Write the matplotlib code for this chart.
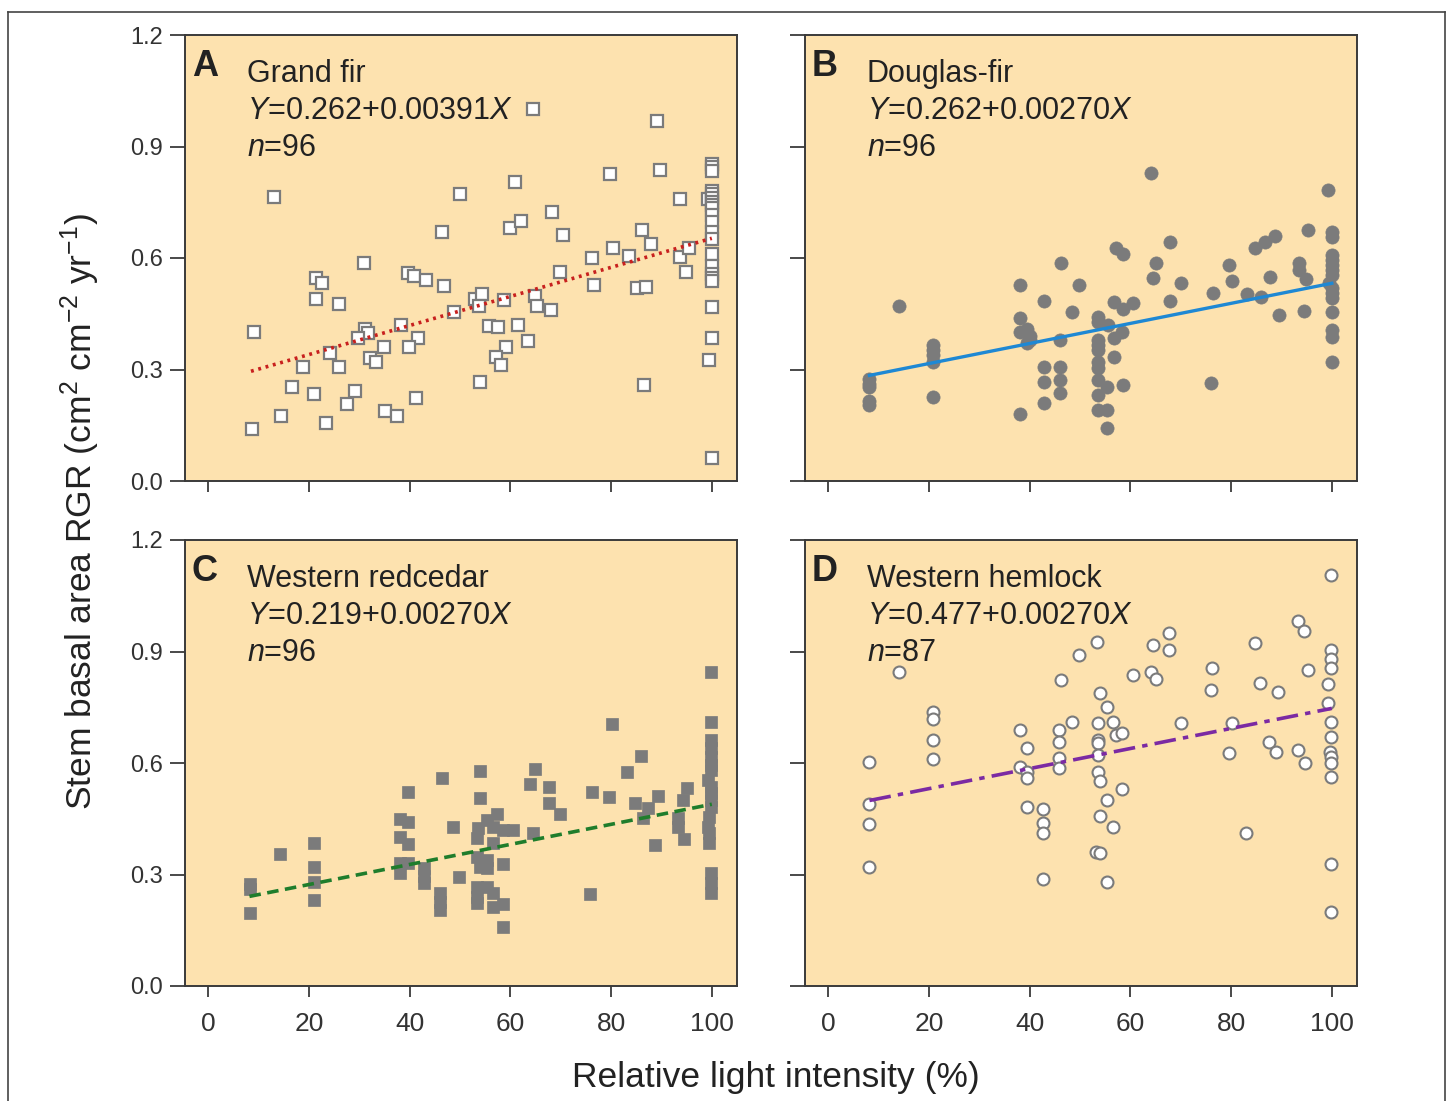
import matplotlib
matplotlib.use("Agg")
import matplotlib.pyplot as plt
from matplotlib.lines import Line2D
import numpy as np

plt.rcParams['font.family'] = ['Liberation Sans', 'DejaVu Sans']
plt.rcParams['mathtext.fontset'] = 'custom'
plt.rcParams['mathtext.rm'] = 'Liberation Sans'
plt.rcParams['mathtext.it'] = 'Liberation Sans:italic'

# ---------------- data ----------------
species = ["Grand fir", "Douglas-fir", "Western redcedar", "Western hemlock"]
letters = ["A", "B", "C", "D"]
intercepts = [0.262, 0.262, 0.219, 0.477]
slopes = [0.00391, 0.00270, 0.00270, 0.00270]
eq_slope_text = ["0.00391", "0.00270", "0.00270", "0.00270"]
eq_int_text = ["0.262", "0.262", "0.219", "0.477"]
n_values = [96, 96, 96, 87]

a_pts = [(13.1,0.763),(50.0,0.772),(46.4,0.671),(31.0,0.587),(21.4,0.547),(22.7,0.533),(21.4,0.491),
         (26.0,0.475),(39.6,0.560),(40.9,0.551),(43.2,0.541),(46.8,0.524),(48.9,0.454),(9.1,0.402),
         (31.2,0.409),(31.8,0.399),(29.7,0.386),(38.3,0.420),(41.6,0.384),(39.9,0.360),(34.9,0.361),
         (24.1,0.344),(18.8,0.306),(25.9,0.307),(32.1,0.332),(33.3,0.321),(16.6,0.254),(21.1,0.234),
         (29.2,0.242),(27.5,0.207),(41.3,0.222),(14.5,0.176),(23.4,0.157),(35.1,0.187),(37.4,0.176),
         (8.8,0.140),
         (64.4,1.001),(89.2,0.969),(89.7,0.838),(79.8,0.825),(61.0,0.805),(93.7,0.758),(59.9,0.682),
         (62.2,0.699),(68.2,0.723),(70.4,0.663),(86.2,0.675),(87.9,0.639),(80.4,0.628),(83.5,0.606),
         (76.3,0.599),(93.7,0.603),(95.5,0.626),(94.8,0.562),(69.9,0.562),(76.6,0.527),(85.2,0.518),
         (87.0,0.523),(53.0,0.491),(54.3,0.503),(53.8,0.472),(58.8,0.486),(64.9,0.499),(65.3,0.472),
         (68.1,0.460),(55.8,0.417),(57.6,0.415),(61.5,0.420),(63.6,0.377),(59.1,0.361),(57.1,0.334),
         (58.1,0.312),(54.0,0.267),(86.6,0.258),(99.3,0.759),(99.4,0.326),
         (100,0.852),(100,0.844),(100,0.834),(100,0.780),(100,0.771),(100,0.761),(100,0.751),
         (100,0.743),(100,0.734),(100,0.717),(100,0.696),(100,0.671),(100,0.651),(100,0.610),
         (100,0.579),(100,0.556),(100,0.547),(100,0.538),(100,0.469),(100,0.386),(100,0.061)]

b_pts = [(14.0,0.471),(8.2,0.275),(8.2,0.262),(8.2,0.252),(8.2,0.215),(8.2,0.205),(20.8,0.366),
         (20.8,0.352),(20.8,0.339),(20.8,0.321),(20.8,0.227),(38.0,0.527),(38.0,0.438),(38.0,0.400),
         (39.5,0.410),(40.0,0.380),(39.5,0.370),(40.0,0.390),(38.0,0.180),(42.8,0.483),(42.8,0.308),
         (42.8,0.267),(42.8,0.209),(46.0,0.379),(46.0,0.308),(46.0,0.272),(46.0,0.236),(46.3,0.586),
         (49.9,0.527),(48.4,0.456),
         (64.0,0.830),(99.3,0.783),(95.2,0.674),(100,0.671),(100,0.657),(88.7,0.659),(86.7,0.644),
         (84.7,0.628),(57.2,0.626),(58.5,0.611),(67.8,0.642),(65.0,0.587),(64.5,0.545),(70.1,0.532),
         (67.8,0.485),(79.5,0.581),(80.1,0.539),(76.4,0.505),(83.2,0.503),(85.9,0.496),(87.7,0.548),
         (89.5,0.447),(93.4,0.586),(93.4,0.568),(94.8,0.543),(94.4,0.457),
         (100,0.608),(100,0.594),(100,0.581),(100,0.568),(100,0.554),(99.5,0.532),(100,0.518),
         (100,0.505),(100,0.492),(100,0.456),(100,0.406),(100,0.388),(100,0.321),
         (56.7,0.482),(60.5,0.480),(58.5,0.463),(58.4,0.402),(56.7,0.384),(56.7,0.334),(58.5,0.258),
         (76.1,0.263),
         (53.5,0.442),(53.5,0.429),(55.5,0.420),(53.5,0.379),(53.5,0.366),(53.5,0.352),(53.5,0.321),
         (53.5,0.303),(53.5,0.272),(55.3,0.254),(53.5,0.231),(53.5,0.191),(55.3,0.191),(55.3,0.142)]

c_pts = [(14.2,0.355),(8.3,0.275),(8.3,0.262),(8.3,0.197),(21.0,0.386),(21.0,0.319),(21.0,0.281),
         (21.0,0.231),(39.6,0.523),(38.1,0.448),(39.6,0.442),(38.1,0.402),(39.6,0.382),(38.1,0.332),
         (39.6,0.332),(38.1,0.303),(46.4,0.560),(48.6,0.429),(42.9,0.317),(42.9,0.295),(42.9,0.276),
         (46.1,0.249),(46.1,0.227),(46.1,0.204),(49.8,0.294),
         (99.8,0.846),(99.8,0.709),(99.8,0.662),(99.8,0.640),(99.8,0.616),(99.8,0.594),(99.8,0.581),
         (99.3,0.554),(99.8,0.536),(99.8,0.518),(99.8,0.500),(99.8,0.482),(99.5,0.455),(99.3,0.429),
         (99.5,0.411),(99.5,0.384),(99.8,0.303),(99.8,0.276),(99.8,0.249),
         (80.1,0.704),(85.9,0.619),(83.1,0.575),(89.4,0.512),(95.1,0.532),(94.2,0.500),(93.3,0.451),
         (93.3,0.429),(94.4,0.395),(88.7,0.379),(84.7,0.493),(87.4,0.478),(86.4,0.451),(76.2,0.521),
         (79.5,0.509),(75.9,0.248),(64.9,0.583),(63.9,0.543),(67.7,0.535),(67.7,0.492),(69.9,0.462),
         (64.4,0.411),(54.0,0.578),(54.0,0.507),(57.3,0.463),(55.3,0.447),(53.6,0.424),(53.3,0.397),
         (56.6,0.429),(58.6,0.420),(60.6,0.420),(56.6,0.384),(53.3,0.348),(55.3,0.339),(54.0,0.321),
         (55.3,0.317),(58.5,0.328),(53.3,0.267),(53.3,0.240),(53.3,0.222),(55.3,0.267),(56.6,0.249),
         (56.6,0.213),(58.5,0.221),(58.5,0.160)]

d_pts = [(14.0,0.845),(8.2,0.604),(8.2,0.490),(8.2,0.435),(8.2,0.321),(20.8,0.738),(20.8,0.718),
         (20.8,0.662),(20.8,0.611),(38.0,0.689),(39.5,0.640),(38.0,0.590),(39.5,0.577),(39.5,0.559),
         (39.5,0.482),(42.7,0.475),(42.7,0.439),(42.7,0.412),(42.7,0.288),(46.3,0.823),(45.9,0.689),
         (45.9,0.656),(45.9,0.613),(45.9,0.587),(48.4,0.711),(49.8,0.891),
         (99.8,1.106),(93.3,0.982),(94.4,0.956),(53.3,0.926),(67.7,0.951),(67.7,0.904),(64.4,0.917),
         (84.8,0.922),(60.5,0.837),(64.0,0.844),(65.0,0.825),(76.3,0.856),(76.0,0.796),(85.8,0.816),
         (89.3,0.792),(95.2,0.850),
         (99.8,0.904),(99.8,0.879),(99.8,0.855),(99.2,0.812),(99.3,0.761),(99.8,0.711),(99.8,0.671),
         (99.6,0.630),(99.8,0.615),(99.8,0.601),(99.8,0.563),(99.8,0.328),(99.8,0.200),
         (53.9,0.787),(55.4,0.752),(53.5,0.708),(56.5,0.711),(53.5,0.662),(53.5,0.655),(57.2,0.675),
         (58.4,0.680),(53.5,0.621),(53.5,0.575),(53.9,0.552),(58.4,0.530),(55.4,0.500),(53.9,0.457),
         (56.5,0.429),(53.2,0.360),(53.9,0.358),(55.4,0.279),(70.1,0.707),(80.2,0.707),(79.5,0.626),
         (87.5,0.657),(88.9,0.629),(93.3,0.635),(94.6,0.601),(83.0,0.413)]

panels_pts = [a_pts, b_pts, c_pts, d_pts]
line_x_start = [8.5, 8.2, 8.2, 8.2]
line_x_end = [100, 100, 100, 100]

x_ticks = [0, 20, 40, 60, 80, 100]
y_ticks = [0.0, 0.3, 0.6, 0.9, 1.2]
y_tick_labels = ["0.0", "0.3", "0.6", "0.9", "1.2"]

# ---------------- styles ----------------
bg = '#FDE2AF'
gray = '#7b7b7b'
marker_styles = [
    dict(marker='s', ms=8.2, mfc='white', mec=gray, mew=1.6),
    dict(marker='o', ms=9.5, mfc=gray, mec=gray, mew=0.5),
    dict(marker='s', ms=8.2, mfc=gray, mec=gray, mew=0.5),
    dict(marker='o', ms=8.6, mfc='white', mec=gray, mew=1.5),
]
line_styles = [
    dict(color='#c8201e', lw=2.6, ls=(0, (0.8, 1.3)), dash_capstyle='butt'),
    dict(color='#1e88d4', lw=2.4, ls='-'),
    dict(color='#1f7d2c', lw=2.6, ls=(0, (3.2, 1.8))),
    dict(color='#7b2aa3', lw=2.6, ls=(0, (6, 2, 1.5, 2))),
]

W, H = 1450, 1101
fig = plt.figure(figsize=(W / 100, H / 100), dpi=100)

def fx(px): return px / W
def fy(py): return 1 - py / H

ax_boxes = [(185, 35, 737, 481), (805, 35, 1357, 481),
            (185, 540, 737, 986), (805, 540, 1357, 986)]

axes = []
for i, (l, t, r, b) in enumerate(ax_boxes):
    ax = fig.add_axes([fx(l), fy(b), fx(r) - fx(l), fy(t) - fy(b)])
    axes.append(ax)
    ax.set_facecolor(bg)
    ax.set_xlim(-4.6, 105.0)
    ax.set_ylim(0, 1.2)
    for s in ax.spines.values():
        s.set_color('#3a3a3a')
        s.set_linewidth(1.4)
    ax.set_yticks(y_ticks)
    ax.set_xticks(x_ticks)
    ax.tick_params(axis='y', direction='out', length=11, width=1.3, color='#3a3a3a',
                   labelsize=17, labelcolor='#333333', pad=5)
    ax.tick_params(axis='x', direction='out', length=8, width=1.3, color='#3a3a3a',
                   labelsize=19, labelcolor='#333333', pad=11)
    if i in (0, 2):
        ax.set_yticklabels(y_tick_labels)
    else:
        ax.set_yticklabels([])
    if i in (2, 3):
        ax.set_xticklabels([str(v) for v in x_ticks])
    else:
        ax.set_xticklabels([])

    pts = panels_pts[i]
    xs = [p[0] for p in pts]
    ys = [p[1] for p in pts]
    ax.plot(xs, ys, ls='none', zorder=3, **marker_styles[i])

    lx = np.array([line_x_start[i], line_x_end[i]])
    ly = intercepts[i] + slopes[i] * lx
    ax.plot(lx, ly, zorder=4, **line_styles[i])

    ax.text(0.012, 0.908, letters[i], transform=ax.transAxes, fontsize=26,
            fontweight='bold', color='#222222', va='baseline', ha='left')
    ax.text(0.112, 0.894, species[i], transform=ax.transAxes, fontsize=22,
            color='#222222', va='baseline', ha='left')
    ax.text(0.112, 0.812, r'$\it{Y}$=' + eq_int_text[i] + '+' + eq_slope_text[i] + r'$\it{X}$',
            transform=ax.transAxes, fontsize=22, color='#222222', va='baseline', ha='left')
    ax.text(0.112, 0.729, r'$\it{n}$=' + str(n_values[i]), transform=ax.transAxes,
            fontsize=22, color='#222222', va='baseline', ha='left')

fig.text(fx(80), fy(512), r'Stem basal area RGR (cm$^{2}$ cm$^{\mathrm{-2}}$ yr$^{\mathrm{-1}}$)',
         rotation=90, ha='center', va='center', fontsize=25.5, color='#222222')
fig.text(fx(776), fy(1077), 'Relative light intensity (%)', ha='center', va='center',
         fontsize=25.5, color='#222222')

# outer frame of the figure
frame_kw = dict(color='#444444', lw=1.2, transform=fig.transFigure)
fig.add_artist(Line2D([fx(8), fx(8)], [0, fy(12)], **frame_kw))
fig.add_artist(Line2D([fx(8), fx(1445)], [fy(12), fy(12)], **frame_kw))
fig.add_artist(Line2D([fx(1445), fx(1445)], [0, fy(12)], **frame_kw))

fig.savefig('out.png', dpi=100, facecolor='white')
